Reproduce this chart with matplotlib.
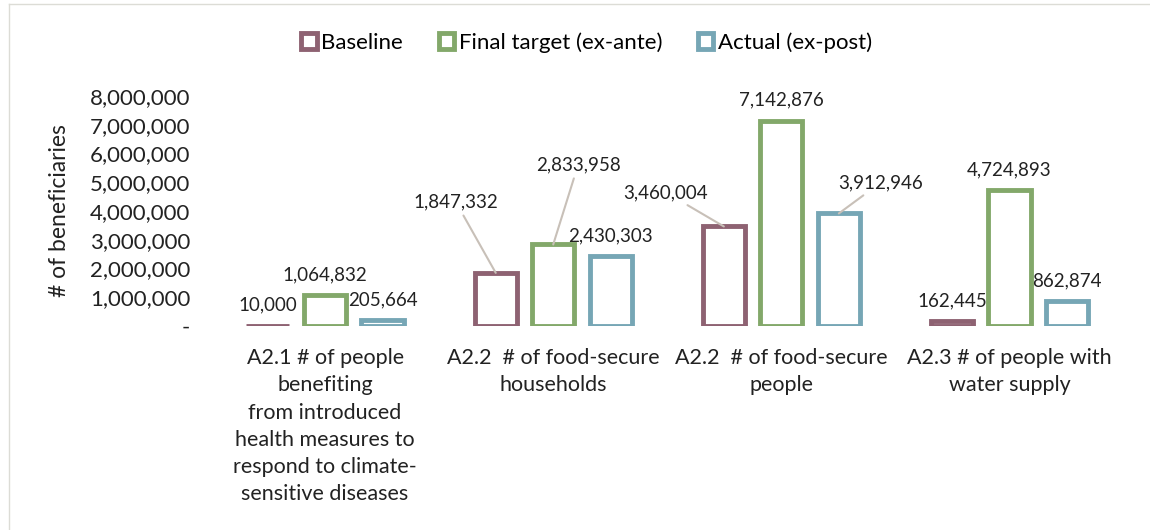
import matplotlib.pyplot as plt
import numpy as np
from matplotlib.lines import Line2D
from matplotlib.patches import Patch
from matplotlib.ticker import FuncFormatter

# Data.
categories = [
    "A2.1 # of people\nbenefiting\nfrom introduced\nhealth measures to\nrespond to climate-\nsensitive diseases",
    "A2.2  # of food-secure\nhouseholds",
    "A2.2  # of food-secure\npeople",
    "A2.3 # of people with\nwater supply",
]
series_names = ["Baseline", "Final target (ex-ante)", "Actual (ex-post)"]
baseline = [10_000, 1_847_332, 3_460_004, 162_445]
final_target = [1_064_832, 2_833_958, 7_142_876, 4_724_893]
actual = [205_664, 2_430_303, 3_912_946, 862_874]
colors = ["#8e6272", "#83a86a", "#76a6b5"]

# Label offsets in pixels for the ones drawn with a leader line.
leader_offsets = {
    (0, 1): (-40, 71),
    (1, 1): (25, 80),
    (0, 2): (-58, 34),
    (2, 2): (42, 31),
}

plt.rcParams['font.family'] = ['Lato', 'DejaVu Sans']

fig = plt.figure(figsize=(11.5, 5.3), dpi=100)
ax = fig.add_axes([0.1835, 0.385, 0.7935, 0.434])

x = np.arange(len(categories))
offset = 0.252
width = 0.185
all_values = [baseline, final_target, actual]

for i, (vals, name, col) in enumerate(zip(all_values, series_names, colors)):
    xs = x + (i - 1) * offset
    ax.bar(xs, vals, width, facecolor='white', edgecolor=col, linewidth=3.5,
           label=name)
    for j, v in enumerate(vals):
        txt = f"{v:,}"
        if (i, j) in leader_offsets:
            dx, dy = leader_offsets[(i, j)]
            ax.annotate(txt, xy=(xs[j], v), xytext=(dx, dy),
                        textcoords='offset pixels', ha='center', va='center',
                        fontsize=13.5, color='#222222',
                        arrowprops=dict(arrowstyle='-', color='#c8c0b8',
                                        lw=1.5, shrinkA=2, shrinkB=0))
        else:
            ax.annotate(txt, xy=(xs[j], v), xytext=(0, 12),
                        textcoords='offset pixels', ha='center', va='bottom',
                        fontsize=13.5, color='#222222')

ax.set_xlim(-0.5, len(categories) - 0.5)
ax.set_ylim(0, 8_000_000)
ax.set_yticks(np.arange(0, 8_000_001, 1_000_000))
ax.yaxis.set_major_formatter(
    FuncFormatter(lambda v, p: "-" if v == 0 else f"{int(v):,}"))
ax.set_xticks(x)
ax.set_xticklabels(categories, fontsize=15.5, linespacing=1.45)
ax.tick_params(axis='both', length=0, colors='#222222')
ax.tick_params(axis='y', labelsize=16, pad=15)
ax.tick_params(axis='x', pad=16)
for s in ax.spines.values():
    s.set_visible(False)

ax.set_ylabel("# of beneficiaries", fontsize=16.5, color='#222222', labelpad=14)

handles = [Patch(facecolor='white', edgecolor=c, linewidth=3.5) for c in colors]
fig.legend(handles, series_names, loc='center', bbox_to_anchor=(0.51, 0.92),
           ncol=3, frameon=False, fontsize=16, handlelength=0.7,
           handleheight=0.7, handletextpad=0.2, columnspacing=1.6)

# Faint chart border (top and left edges visible in the reference).
fig.add_artist(Line2D([9 / 1150, 1], [1 - 4 / 530, 1 - 4 / 530],
                      transform=fig.transFigure, color='#dcdcd6', lw=1))
fig.add_artist(Line2D([9 / 1150, 9 / 1150], [0, 1 - 4 / 530],
                      transform=fig.transFigure, color='#dcdcd6', lw=1))

fig.savefig('out.png', dpi=100)
